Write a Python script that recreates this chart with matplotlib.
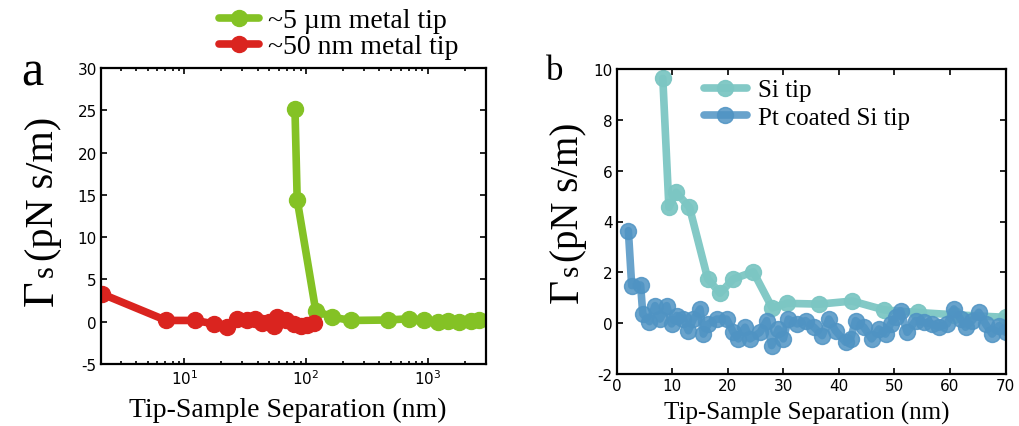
import matplotlib
matplotlib.use("Agg")
import matplotlib.pyplot as plt

plt.rcParams["axes.unicode_minus"] = False

# ---------------- data ----------------
a_green_label = "~5 \u00b5m metal tip"
a_green_x = [81, 84.5, 120, 164, 232, 466, 701, 932, 1200, 1452, 1811, 2260, 2630]
a_green_y = [25.2, 14.4, 1.3, 0.55, 0.15, 0.2, 0.35, 0.15, 0.0, 0.05, 0.0, 0.1, 0.2]

a_red_label = "~50 nm metal tip"
a_red_x = [2.1, 7.1, 12.3, 17.4, 22.4, 27.2, 32.8, 38.4, 43.6, 49.5, 54.4, 57.9,
           67.9, 79.4, 90, 102, 116]
a_red_y = [3.3, 0.15, 0.15, -0.25, -0.6, 0.35, 0.15, 0.3, -0.2, 0.0, -0.5, 0.55,
           0.15, -0.25, -0.5, -0.4, -0.1]

b_si_label = "Si tip"
b_si_x = [8.3, 9.4, 10.7, 13.1, 16.4, 18.6, 21.0, 24.6, 28.0, 30.6, 36.5, 42.4,
          48.2, 54.2, 60.8, 70]
b_si_y = [9.63, 4.56, 5.15, 4.56, 1.74, 1.18, 1.74, 2.02, 0.6, 0.78, 0.75, 0.87,
          0.52, 0.42, 0.33, 0.23]

b_pt_label = "Pt coated Si tip"
b_pt_x = [2.1, 2.7, 4.3, 4.7, 5.9, 6.9, 7.8, 9.0, 9.9, 10.8, 12.0, 12.9, 13.8,
          15.0, 15.6, 16.5, 18.0, 19.8, 21.0, 21.9, 23.1, 24.0, 25.8, 27.0, 27.9,
          29.1, 30.0, 30.9, 32.5, 34.0, 35.5, 37.0, 38.2, 39.4, 41.2, 42.1, 43.0,
          44.5, 45.9, 47.2, 48.4, 49.3, 50.2, 51.1, 52.3, 53.8, 55.3, 56.8, 58.0,
          59.5, 60.7, 61.9, 62.8, 64.0, 65.2, 66.4, 67.6, 68.8, 70.0]
b_pt_y = [3.64, 1.48, 1.5, 0.36, 0.06, 0.69, 0.16, 0.69, -0.03, 0.3, 0.16, -0.3,
          0.16, 0.56, -0.43, -0.03, 0.16, 0.16, -0.36, -0.62, -0.16, -0.62, -0.36,
          0.1, -0.88, -0.23, -0.62, 0.16, -0.03, 0.1, -0.16, -0.49, 0.16, -0.3,
          -0.75, -0.62, 0.1, -0.16, -0.62, -0.23, -0.43, -0.03, 0.23, 0.49, -0.36,
          0.1, 0.03, -0.03, -0.16, -0.03, 0.56, 0.16, -0.16, 0.1, 0.43, -0.03,
          -0.43, -0.1, -0.36]

a_yticks = [-5, 0, 5, 10, 15, 20, 25, 30]
b_yticks = [-2, 0, 2, 4, 6, 8, 10]
b_xticks = [0, 10, 20, 30, 40, 50, 60, 70]

xlabel_text = "Tip-Sample Separation (nm)"

# ---------------- style ----------------
GREEN = "#84c225"
RED = "#da241f"
TEAL = "#7cc6c3"
BLUE = "#4f93c3"
SERIF = "Liberation Serif"

W, H = 1019, 427
fig = plt.figure(figsize=(W / 100, H / 100), dpi=100)


def fx(px):
    return px / W


def fy(py):
    return 1 - py / H


def style_axes(ax):
    for s in ax.spines.values():
        s.set_linewidth(1.6)
    ax.tick_params(which="both", direction="in", top=True, right=True,
                   labelsize=11, pad=3, width=1.2)
    ax.tick_params(which="major", length=4)
    ax.tick_params(which="minor", length=2.5)


line_kw = dict(lw=5.5, marker="o", ms=11.5, solid_capstyle="round",
               solid_joinstyle="round")

# ---------------- panel a ----------------
axa = fig.add_axes([fx(101), fy(365), fx(486) - fx(101), fy(69) - fy(365)])
axa.plot(a_green_x, a_green_y, color=GREEN, label=a_green_label, **line_kw)
axa.plot(a_red_x, a_red_y, color=RED, label=a_red_label, **line_kw)
axa.set_xscale("log")
axa.set_xlim(2.07, 3000)
axa.set_ylim(-5, 30)
axa.set_yticks(a_yticks)
style_axes(axa)
axa.legend(loc="upper left", bbox_to_anchor=(fx(219), fy(9)),
           bbox_transform=fig.transFigure, frameon=False, numpoints=1,
           prop={"family": SERIF, "size": 20}, handlelength=1.45,
           handletextpad=0.3, labelspacing=0.02, borderpad=0, borderaxespad=0)

# ---------------- panel b ----------------
axb = fig.add_axes([fx(616.7), fy(375), fx(1005.5) - fx(616.7), fy(70) - fy(375)])
axb.plot(b_si_x, b_si_y, color=TEAL, alpha=0.95, label=b_si_label, **line_kw)
axb.plot(b_pt_x, b_pt_y, color=BLUE, alpha=0.85, label=b_pt_label, **line_kw)
axb.set_xlim(0, 70)
axb.set_ylim(-2, 10)
axb.set_xticks(b_xticks)
axb.set_yticks(b_yticks)
style_axes(axb)
axb.legend(loc="upper left", bbox_to_anchor=(fx(704), fy(80)),
           bbox_transform=fig.transFigure, frameon=False, numpoints=1,
           prop={"family": SERIF, "size": 18}, handlelength=1.7,
           handletextpad=0.45, labelspacing=0.2, borderpad=0, borderaxespad=0)

# ---------------- x labels ----------------
for ax, cx, by, fs in [(axa, 288, 417, 20), (axb, 807, 420, 18)]:
    ax.set_xlabel(xlabel_text, family=SERIF, fontsize=fs)
    ax.xaxis.set_label_coords(fx(cx), fy(by), transform=fig.transFigure)
    ax.xaxis.label.set_va("baseline")

# ---------------- y labels (Γ + small s + units) ----------------
def ylabel_pieces(base_x, g_y, s_y, u_y, gsize, ssize, usize):
    kw = dict(rotation=90, rotation_mode="anchor", ha="left", va="baseline",
              family=SERIF, transform=fig.transFigure)
    fig.text(fx(base_x), fy(g_y), "\u0393", fontsize=gsize, **kw)
    fig.text(fx(base_x), fy(s_y), "s", fontsize=ssize, **kw)
    fig.text(fx(base_x), fy(u_y), "(pN s/m)", fontsize=usize, **kw)


ylabel_pieces(53, 306, 277, 261, 32, 22, 29)
ylabel_pieces(578, 303, 276, 262, 30, 21, 28)

# ---------------- panel letters ----------------
fig.text(fx(21), fy(85), "a", family=SERIF, fontsize=36, va="baseline")
fig.text(fx(546), fy(80), "b", family=SERIF, fontsize=25, va="baseline")

fig.savefig("out.png", dpi=100)
